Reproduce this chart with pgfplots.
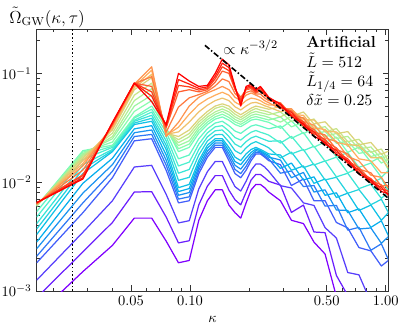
\documentclass[border=0pt]{standalone}
\usepackage{pgfplots}
\usepackage{pgfplotstable}
\pgfplotsset{compat=1.18}
\pgfplotsset{colormap={mplrainbow}{rgb=(0.5,0,1) rgb=(0.25,0.383,0.981) rgb=(0,0.707,0.924) rgb=(0.25,0.924,0.831) rgb=(0.5,1,0.707) rgb=(0.75,0.924,0.556) rgb=(1,0.707,0.383) rgb=(1,0.383,0.195) rgb=(1,0,0)}}

\pgfplotstableread{
k t0 t1 t2 t3 t4 t5 t6 t7 t8 t9 t10 t11 t12 t13 t14 t15 t16 t17 t18 t19 t20 t21 t22 t23 t24 t25
0.0165 6.0e-4 8.7e-4 1.26e-3 1.82e-3 2.09e-3 2.45e-3 2.82e-3 3.31e-3 3.72e-3 4.17e-3 4.79e-3 5.37e-3 6.03e-3 6.03e-3 6.05e-3 6.1e-3 6.15e-3 6.17e-3 6.2e-3 6.27e-3 6.31e-3 6.38e-3 6.46e-3 6.46e-3 6.46e-3 6.5e-3
0.0284 1.51e-3 2.29e-3 3.47e-3 5.25e-3 6.46e-3 7.94e-3 9.77e-3 1.20e-2 1.32e-2 1.45e-2 1.62e-2 1.78e-2 1.95e-2 1.89e-2 1.83e-2 1.78e-2 1.72e-2 1.66e-2 1.58e-2 1.49e-2 1.41e-2 1.29e-2 1.17e-2 1.15e-2 1.10e-2 1.07e-2
0.0402 2.63e-3 4.27e-3 6.76e-3 1.10e-2 1.26e-2 1.45e-2 1.66e-2 1.91e-2 1.95e-2 2.00e-2 2.09e-2 2.14e-2 2.19e-2 2.34e-2 2.51e-2 2.63e-2 2.82e-2 3.02e-2 3.09e-2 3.24e-2 3.31e-2 3.35e-2 3.39e-2 3.47e-2 3.50e-2 3.55e-2
0.052 4.68e-3 8.13e-3 1.38e-2 2.40e-2 2.63e-2 2.85e-2 3.09e-2 3.39e-2 3.50e-2 3.63e-2 3.72e-2 3.89e-2 3.98e-2 4.47e-2 5.01e-2 5.62e-2 6.31e-2 7.08e-2 7.41e-2 7.59e-2 7.94e-2 8.04e-2 8.13e-2 8.13e-2 8.13e-2 8.13e-2
0.0638 4.68e-3 8.19e-3 1.43e-2 2.51e-2 2.75e-2 3.02e-2 3.31e-2 3.63e-2 3.87e-2 4.12e-2 4.41e-2 4.68e-2 5.01e-2 5.62e-2 6.31e-2 7.24e-2 8.13e-2 9.12e-2 9.8e-2 1.07e-1 1.15e-1 9.33e-2 7.59e-2 6.76e-2 6.17e-2 5.50e-2
0.0756 2.88e-3 4.79e-3 7.76e-3 1.29e-2 1.44e-2 1.60e-2 1.79e-2 2.00e-2 2.19e-2 2.40e-2 2.63e-2 2.88e-2 3.16e-2 3.09e-2 3.02e-2 2.95e-2 2.88e-2 2.82e-2 2.75e-2 2.69e-2 2.63e-2 2.88e-2 3.16e-2 3.24e-2 3.31e-2 3.39e-2
0.0874 1.82e-3 2.77e-3 4.23e-3 6.46e-3 7.0e-3 7.59e-3 8.2e-3 8.91e-3 1.04e-2 1.21e-2 1.41e-2 1.64e-2 1.91e-2 2.03e-2 2.17e-2 2.31e-2 2.46e-2 2.63e-2 2.90e-2 3.20e-2 3.55e-2 4.90e-2 6.76e-2 7.76e-2 8.77e-2 1.00e-1
0.0992 1.91e-3 2.90e-3 4.43e-3 6.76e-3 7.35e-3 8.04e-3 8.75e-3 9.55e-3 1.11e-2 1.31e-2 1.53e-2 1.78e-2 2.09e-2 2.24e-2 2.40e-2 2.61e-2 2.80e-2 3.02e-2 3.57e-2 4.22e-2 5.01e-2 5.96e-2 7.08e-2 7.52e-2 7.98e-2 8.51e-2
0.111 4.47e-3 6.2e-3 8.7e-3 1.20e-2 1.29e-2 1.38e-2 1.48e-2 1.58e-2 1.78e-2 2.00e-2 2.24e-2 2.51e-2 2.82e-2 3.00e-2 3.18e-2 3.37e-2 3.58e-2 3.80e-2 4.43e-2 5.17e-2 6.03e-2 6.38e-2 6.76e-2 7.02e-2 7.28e-2 7.59e-2
0.1228 6.76e-3 9.2e-3 1.25e-2 1.70e-2 1.81e-2 1.93e-2 2.06e-2 2.19e-2 2.39e-2 2.61e-2 2.84e-2 3.10e-2 3.39e-2 3.57e-2 3.77e-2 3.97e-2 4.19e-2 4.47e-2 5.10e-2 5.82e-2 6.61e-2 6.84e-2 7.08e-2 7.29e-2 7.51e-2 7.76e-2
0.1346 8.51e-3 1.15e-2 1.55e-2 2.09e-2 2.19e-2 2.29e-2 2.40e-2 2.51e-2 2.73e-2 2.97e-2 3.23e-2 3.50e-2 3.80e-2 3.99e-2 4.21e-2 4.43e-2 4.77e-2 5.01e-2 5.62e-2 6.31e-2 7.08e-2 7.67e-2 8.32e-2 8.91e-2 9.4e-2 1.00e-1
0.1464 8.51e-3 1.15e-2 1.55e-2 2.09e-2 2.19e-2 2.29e-2 2.40e-2 2.51e-2 2.75e-2 3.02e-2 3.31e-2 3.63e-2 3.98e-2 4.22e-2 4.47e-2 4.71e-2 5.00e-2 5.25e-2 5.93e-2 6.71e-2 7.59e-2 8.91e-2 1.05e-1 1.15e-1 1.24e-1 1.35e-1
0.1582 6.17e-3 8.46e-3 1.16e-2 1.58e-2 1.70e-2 1.82e-2 1.95e-2 2.09e-2 2.34e-2 2.63e-2 2.95e-2 3.31e-2 3.72e-2 3.94e-2 4.17e-2 4.43e-2 4.70e-2 5.01e-2 5.62e-2 6.31e-2 7.08e-2 8.41e-2 1.00e-1 1.06e-1 1.13e-1 1.20e-1
0.17 5.25e-3 6.9e-3 9.1e-3 1.20e-2 1.31e-2 1.43e-2 1.55e-2 1.70e-2 1.95e-2 2.24e-2 2.57e-2 2.95e-2 3.39e-2 3.58e-2 3.77e-2 3.98e-2 4.22e-2 4.47e-2 4.93e-2 5.44e-2 6.03e-2 6.53e-2 7.08e-2 7.24e-2 7.41e-2 7.59e-2
0.1818 4.68e-3 6.2e-3 8.3e-3 1.10e-2 1.20e-2 1.32e-2 1.45e-2 1.58e-2 1.82e-2 2.10e-2 2.44e-2 2.81e-2 3.24e-2 3.40e-2 3.57e-2 3.75e-2 3.94e-2 4.17e-2 4.61e-2 5.10e-2 5.62e-2 5.82e-2 6.03e-2 5.65e-2 5.31e-2 5.01e-2
0.1936 6.46e-3 8.1e-3 1.02e-2 1.29e-2 1.40e-2 1.53e-2 1.67e-2 1.82e-2 2.07e-2 2.36e-2 2.68e-2 3.05e-2 3.47e-2 3.64e-2 3.83e-2 4.03e-2 4.24e-2 4.47e-2 5.01e-2 5.62e-2 6.31e-2 6.68e-2 7.08e-2 7.24e-2 7.41e-2 7.59e-2
0.2054 8.51e-3 1.05e-2 1.29e-2 1.58e-2 1.68e-2 1.78e-2 1.88e-2 2.00e-2 2.26e-2 2.55e-2 2.88e-2 3.28e-2 3.72e-2 3.91e-2 4.11e-2 4.33e-2 4.55e-2 4.79e-2 5.34e-2 5.93e-2 6.61e-2 6.92e-2 7.24e-2 7.45e-2 7.67e-2 7.94e-2
0.2172 9.55e-3 1.18e-2 1.47e-2 1.82e-2 1.88e-2 1.95e-2 2.02e-2 2.09e-2 2.36e-2 2.65e-2 2.99e-2 3.37e-2 3.80e-2 4.01e-2 4.23e-2 4.47e-2 4.76e-2 5.01e-2 5.42e-2 5.82e-2 6.31e-2 6.46e-2 6.61e-2 6.76e-2 6.92e-2 7.08e-2
0.229 9.55e-3 1.18e-2 1.47e-2 1.82e-2 1.86e-2 1.91e-2 1.95e-2 2.00e-2 2.26e-2 2.55e-2 2.88e-2 3.28e-2 3.72e-2 3.91e-2 4.13e-2 4.36e-2 4.60e-2 4.90e-2 5.25e-2 5.62e-2 6.03e-2 6.46e-2 6.92e-2 7.08e-2 7.41e-2 7.59e-2
0.2408 8.91e-3 1.10e-2 1.38e-2 1.70e-2 1.74e-2 1.80e-2 1.85e-2 1.91e-2 2.17e-2 2.46e-2 2.80e-2 3.18e-2 3.63e-2 3.82e-2 4.05e-2 4.27e-2 4.52e-2 4.79e-2 5.04e-2 5.31e-2 5.62e-2 5.96e-2 6.31e-2 6.46e-2 6.61e-2 6.76e-2
0.2526 8.13e-3 1.02e-2 1.26e-2 1.58e-2 1.64e-2 1.70e-2 1.76e-2 1.82e-2 2.07e-2 2.38e-2 2.71e-2 3.09e-2 3.55e-2 3.73e-2 3.94e-2 4.17e-2 4.40e-2 4.68e-2 4.90e-2 5.13e-2 5.37e-2 5.62e-2 5.89e-2 5.93e-2 5.98e-2 6.03e-2
0.29 6.76e-3 9.4e-3 9.3e-3 1.45e-2 1.21e-2 1.60e-2 1.34e-2 1.78e-2 1.67e-2 2.40e-2 2.29e-2 3.29e-2 3.13e-2 3.98e-2 3.57e-2 4.44e-2 3.98e-2 4.95e-2 4.45e-2 5.15e-2 4.73e-2 5.37e-2 4.95e-2 5.27e-2 4.88e-2 5.19e-2
0.33 4.47e-3 5.28e-3 8.85e-3 9.33e-3 1.27e-2 1.10e-2 1.50e-2 1.29e-2 1.89e-2 1.82e-2 2.64e-2 2.53e-2 3.67e-2 3.23e-2 4.01e-2 3.61e-2 4.48e-2 4.03e-2 4.66e-2 4.19e-2 4.73e-2 4.17e-2 4.52e-2 4.15e-2 4.39e-2 4.03e-2
0.38 4.17e-3 6.17e-3 6.46e-3 1.07e-2 9.12e-3 1.23e-2 1.05e-2 1.41e-2 1.36e-2 2.00e-2 1.95e-2 2.86e-2 2.79e-2 3.54e-2 3.18e-2 3.95e-2 3.56e-2 4.42e-2 3.76e-2 4.12e-2 3.59e-2 3.89e-2 3.43e-2 3.59e-2 3.27e-2 3.43e-2
0.43 2.82e-3 3.49e-3 6.12e-3 6.76e-3 9.33e-3 8.13e-3 1.12e-2 9.77e-3 1.47e-2 1.44e-2 2.14e-2 2.10e-2 3.13e-2 2.75e-2 3.41e-2 3.07e-2 3.81e-2 3.43e-2 3.73e-2 3.15e-2 3.35e-2 2.88e-2 3.05e-2 2.79e-2 2.92e-2 2.66e-2
0.49 2.19e-3 3.44e-3 3.83e-3 6.76e-3 6.03e-3 8.51e-3 7.59e-3 1.07e-2 1.05e-2 1.57e-2 1.56e-2 2.34e-2 2.32e-2 2.93e-2 2.62e-2 3.24e-2 2.90e-2 3.59e-2 2.92e-2 3.05e-2 2.54e-2 2.72e-2 2.37e-2 2.47e-2 2.23e-2 2.32e-2
0.56 8.9e-4 1.39e-3 3.07e-3 4.27e-3 6.13e-3 5.56e-3 7.99e-3 7.24e-3 1.11e-2 1.12e-2 1.70e-2 1.71e-2 2.60e-2 2.28e-2 2.81e-2 2.52e-2 3.11e-2 2.79e-2 2.90e-2 2.33e-2 2.37e-2 2.00e-2 2.07e-2 1.88e-2 1.97e-2 1.80e-2
0.64 4.0e-4 9.1e-4 1.48e-3 3.80e-3 3.63e-3 5.50e-3 5.25e-3 7.94e-3 7.92e-3 1.21e-2 1.22e-2 1.87e-2 1.88e-2 2.38e-2 2.13e-2 2.64e-2 2.36e-2 2.92e-2 2.23e-2 2.20e-2 1.72e-2 1.82e-2 1.57e-2 1.64e-2 1.50e-2 1.57e-2
0.73 2.5e-4 5.0e-4 1.41e-3 2.51e-3 3.85e-3 3.72e-3 5.69e-3 5.50e-3 8.57e-3 8.73e-3 1.35e-2 1.37e-2 2.11e-2 1.84e-2 2.26e-2 2.02e-2 2.48e-2 2.21e-2 2.16e-2 1.64e-2 1.57e-2 1.32e-2 1.36e-2 1.24e-2 1.30e-2 1.19e-2
0.84 1.6e-4 4.2e-4 7.9e-4 2.34e-3 2.37e-3 3.80e-3 3.85e-3 6.17e-3 6.21e-3 9.57e-3 9.75e-3 1.50e-2 1.53e-2 1.93e-2 1.72e-2 2.11e-2 1.88e-2 2.32e-2 1.68e-2 1.57e-2 1.16e-2 1.22e-2 1.04e-2 1.08e-2 9.89e-3 1.04e-2
0.95 1.0e-4 2.4e-4 8.0e-4 1.70e-3 2.72e-3 2.75e-3 4.42e-3 4.47e-3 6.97e-3 7.10e-3 1.09e-2 1.11e-2 1.72e-2 1.50e-2 1.84e-2 1.64e-2 2.02e-2 1.80e-2 1.68e-2 1.22e-2 1.11e-2 9.23e-3 9.44e-3 8.61e-3 9.02e-3 8.22e-3
1.031 1.0e-4 2.9e-4 5.9e-4 1.91e-3 1.95e-3 3.16e-3 3.24e-3 5.25e-3 5.28e-3 8.15e-3 8.30e-3 1.28e-2 1.30e-2 1.63e-2 1.45e-2 1.77e-2 1.57e-2 1.93e-2 1.35e-2 1.22e-2 8.81e-3 9.33e-3 8.04e-3 8.35e-3 7.55e-3 7.85e-3
}\spec

\begin{document}
\begin{tikzpicture}
\begin{axis}[
  width=242.6pt, height=180.6pt, scale only axis,
  xmode=log, ymode=log,
  xmin=0.0165, xmax=1.031, ymin=1e-3, ymax=0.254,
  xtick={0.05,0.1,0.5,1},
  xticklabels={$0.05$,$0.10$,$0.50$,$1.00$},
  minor xtick={0.02,0.03,0.04,0.06,0.07,0.08,0.09,0.2,0.3,0.4,0.6,0.7,0.8,0.9},
  ytick={1e-3,1e-2,1e-1},
  minor ytick={2e-3,3e-3,4e-3,5e-3,6e-3,7e-3,8e-3,9e-3,2e-2,3e-2,4e-2,5e-2,6e-2,7e-2,8e-2,9e-2,2e-1},
  tick align=inside,
  major tick length=4pt, minor tick length=2.2pt,
  axis line style={black!80},
  every tick/.style={black!80},
  xlabel={$\kappa$},
  x label style={at={(axis description cs:0.5,0)}, anchor=center, yshift=-19.7pt},
  curve/.style={mark=none, line width=0.85pt, line join=round},
  clip mode=individual,
]
\addplot[curve, color of colormap={0}] table[x=k,y=t0]{\spec};
\addplot[curve, color of colormap={40}] table[x=k,y=t1]{\spec};
\addplot[curve, color of colormap={80}] table[x=k,y=t2]{\spec};
\addplot[curve, color of colormap={120}] table[x=k,y=t3]{\spec};
\addplot[curve, color of colormap={160}] table[x=k,y=t4]{\spec};
\addplot[curve, color of colormap={200}] table[x=k,y=t5]{\spec};
\addplot[curve, color of colormap={240}] table[x=k,y=t6]{\spec};
\addplot[curve, color of colormap={280}] table[x=k,y=t7]{\spec};
\addplot[curve, color of colormap={320}] table[x=k,y=t8]{\spec};
\addplot[curve, color of colormap={360}] table[x=k,y=t9]{\spec};
\addplot[curve, color of colormap={400}] table[x=k,y=t10]{\spec};
\addplot[curve, color of colormap={440}] table[x=k,y=t11]{\spec};
\addplot[curve, color of colormap={480}] table[x=k,y=t12]{\spec};
\addplot[curve, color of colormap={520}] table[x=k,y=t13]{\spec};
\addplot[curve, color of colormap={560}] table[x=k,y=t14]{\spec};
\addplot[curve, color of colormap={600}] table[x=k,y=t15]{\spec};
\addplot[curve, color of colormap={640}] table[x=k,y=t16]{\spec};
\addplot[curve, color of colormap={680}] table[x=k,y=t17]{\spec};
\addplot[curve, color of colormap={720}] table[x=k,y=t18]{\spec};
\addplot[curve, color of colormap={760}] table[x=k,y=t19]{\spec};
\addplot[curve, color of colormap={800}] table[x=k,y=t20]{\spec};
\addplot[curve, color of colormap={840}] table[x=k,y=t21]{\spec};
\addplot[curve, color of colormap={880}] table[x=k,y=t22]{\spec};
\addplot[curve, color of colormap={920}] table[x=k,y=t23]{\spec};
\addplot[curve, color of colormap={960}] table[x=k,y=t24]{\spec};
\addplot[curve, color of colormap={1000}] table[x=k,y=t25]{\spec};
% power law guide
\addplot[black, mark=none, line width=1.1pt, dash pattern=on 4pt off 1.5pt on 1pt off 1.5pt] coordinates {(0.1193,0.181) (1.031,0.00713)};
% dotted vertical line
\addplot[black, mark=none, line width=1.1pt, dash pattern=on 1.1pt off 1.5pt] coordinates {(0.0251,1e-3) (0.0251,0.254)};
\node[anchor=base west, inner sep=0pt, font=\fontsize{11}{13}\selectfont] at (rel axis cs:0.530,0.905) {$\propto\kappa^{-3/2}$};
\node[anchor=base west, inner sep=0pt, font=\fontsize{11}{13}\selectfont\bfseries] at (rel axis cs:0.766,0.929) {Artificial};
\node[anchor=base west, inner sep=0pt, font=\fontsize{11}{13}\selectfont] at (rel axis cs:0.766,0.855) {$\tilde{L}=512$};
\node[anchor=base west, inner sep=0pt, font=\fontsize{11}{13}\selectfont] at (rel axis cs:0.766,0.782) {$\tilde{L}_{1/4}=64$};
\node[anchor=base west, inner sep=0pt, font=\fontsize{11}{13}\selectfont] at (rel axis cs:0.766,0.708) {$\delta\tilde{x}=0.25$};
\coordinate (tl) at (rel axis cs:0,1);
\coordinate (bbll) at (rel axis cs:-0.1044,-0.1605);
\coordinate (bbur) at (rel axis cs:1.0304,1.1120);
\end{axis}
\node[anchor=base west, inner sep=0pt, font=\fontsize{11.5}{13}\selectfont] at ([xshift=-19.1pt,yshift=4.3pt]tl) {$\tilde{\Omega}_{\mathrm{GW}}(\kappa,\tau)$};
\pgfresetboundingbox
\path[use as bounding box] (bbll) rectangle (bbur);
\end{tikzpicture}
\end{document}
